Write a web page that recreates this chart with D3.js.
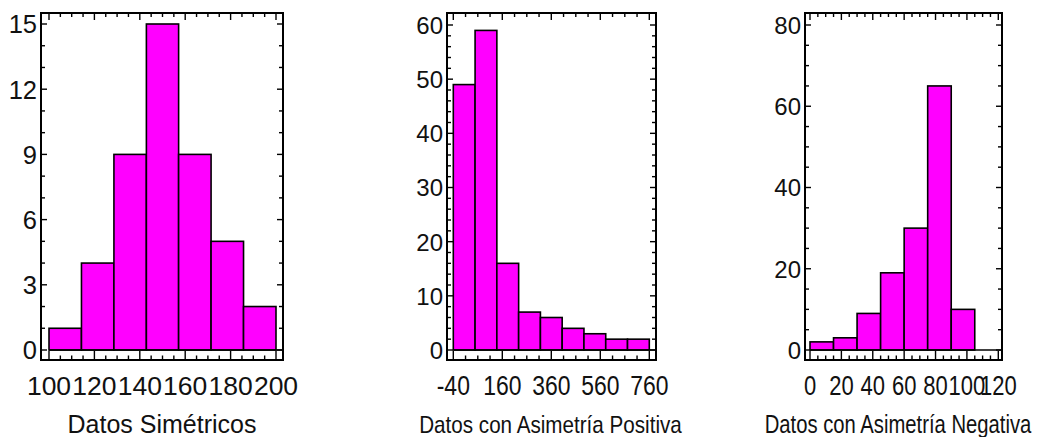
<!DOCTYPE html>
<html>
<head>
<meta charset="utf-8">
<script src="https://cdn.jsdelivr.net/npm/d3@7/dist/d3.min.js"></script>
<style>
  html, body { margin: 0; padding: 0; background: #ffffff; }
  svg { display: block; }
  text { font-family: Arial, "Liberation Sans", sans-serif; fill: #111; }
</style>
</head>
<body>
<svg id="chart" width="1037" height="437"></svg>
<script>
// ---- Histogram data (bin edges, frequencies, axis ticks) ----
const simEdges = [100, 114.3, 128.6, 142.9, 157.1, 171.4, 185.7, 200];
const simCounts = [1, 4, 9, 15, 9, 5, 2];
const simXTicks = [100, 120, 140, 160, 180, 200];
const simYTicks = [0, 3, 6, 9, 12, 15];

const posEdges = [-40, 48.9, 137.8, 226.7, 315.6, 404.4, 493.3, 582.2, 671.1, 760];
const posCounts = [49, 59, 16, 7, 6, 4, 3, 2, 2];
const posXTicks = [-40, 160, 360, 560, 760];
const posYTicks = [0, 10, 20, 30, 40, 50, 60];

const negEdges = [0, 15, 30, 45, 60, 75, 90, 105];
const negCounts = [2, 3, 9, 19, 30, 65, 10];
const negXTicks = [0, 20, 40, 60, 80, 100, 120];
const negYTicks = [0, 20, 40, 60, 80];

const titles = ["Datos Simétricos", "Datos con Asimetría Positiva", "Datos con Asimetría Negativa"];

// ---- Panel layout ----
const panels = [
  {
    edges: simEdges, counts: simCounts, xTicks: simXTicks, yTicks: simYTicks, title: titles[0],
    frame: { x0: 41, y0: 13, x1: 283, y1: 360 },
    xRange: [49, 276], yRange: [350, 24],
    xMinor: 5, yMinor: 1,
    xFont: 26.5, xSx: 1, yFont: 25.5, ySx: 1,
    titleFont: 25, titleSx: 1, titleX: 162
  },
  {
    edges: posEdges, counts: posCounts, xTicks: posXTicks, yTicks: posYTicks, title: titles[1],
    frame: { x0: 447, y0: 13, x1: 656, y1: 360 },
    xRange: [453.3, 649.3], yRange: [350, 25],
    xMinor: 50, yMinor: 2,
    xFont: 27, xSx: 0.85, yFont: 24, ySx: 1,
    titleFont: 24, titleSx: 0.86, titleX: 550.5
  },
  {
    edges: negEdges, counts: negCounts, xTicks: negXTicks, yTicks: negYTicks, title: titles[2],
    frame: { x0: 805, y0: 13, x1: 1002, y1: 360 },
    xRange: [810, 998.3], yRange: [350, 25],
    xMinor: 5, yMinor: 5,
    xFont: 27.5, xSx: 0.8, yFont: 24, ySx: 1,
    titleFont: 25, titleSx: 0.81, titleX: 898
  }
];

const svg = d3.select("#chart");

function label(g, x, y, txt, size, sx, anchor) {
  g.append("text")
    .attr("transform", `translate(${x},${y}) scale(${sx},1)`)
    .attr("text-anchor", anchor)
    .attr("font-size", size)
    .text(txt);
}

panels.forEach(p => {
  const g = svg.append("g");
  const f = p.frame;
  const xDomain = [p.xTicks[0], p.xTicks[p.xTicks.length - 1]];
  const yDomain = [p.yTicks[0], p.yTicks[p.yTicks.length - 1]];
  const x = d3.scaleLinear().domain(xDomain).range(p.xRange);
  const y = d3.scaleLinear().domain(yDomain).range(p.yRange);

  // bars
  const bins = p.counts.map((c, i) => ({ a: p.edges[i], b: p.edges[i + 1], c }));
  g.selectAll("rect.bar").data(bins).join("rect")
    .attr("class", "bar")
    .attr("x", d => x(d.a))
    .attr("y", d => y(d.c))
    .attr("width", d => x(d.b) - x(d.a))
    .attr("height", d => y(0) - y(d.c))
    .attr("fill", "#ff00ff")
    .attr("stroke", "#000")
    .attr("stroke-width", 1.6);

  // baseline to the right edge
  g.append("line")
    .attr("x1", x(p.edges[0])).attr("x2", f.x1)
    .attr("y1", y(0)).attr("y2", y(0))
    .attr("stroke", "#000").attr("stroke-width", 1.4);

  // minor / major ticks along the frame
  const xMinorVals = d3.range(xDomain[0], xDomain[1] + 1e-9, p.xMinor);
  const yMinorVals = d3.range(yDomain[0], yDomain[1] + 1e-9, p.yMinor);
  const isMajor = (v, arr) => arr.some(t => Math.abs(t - v) < 1e-6);
  const tk = g.append("g").attr("stroke", "#000").attr("stroke-width", 1.4);

  xMinorVals.forEach(v => {
    const mj = isMajor(v, p.xTicks);
    const xx = x(v);
    tk.append("line").attr("x1", xx).attr("x2", xx)
      .attr("y1", f.y1).attr("y2", f.y1 - (mj ? 9 : 4.5));
    tk.append("line").attr("x1", xx).attr("x2", xx)
      .attr("y1", f.y0).attr("y2", f.y0 + (mj ? 7 : 4));
  });
  yMinorVals.forEach(v => {
    const mj = isMajor(v, p.yTicks);
    const yy = y(v);
    tk.append("line").attr("y1", yy).attr("y2", yy)
      .attr("x1", f.x0).attr("x2", f.x0 + (mj ? 6 : 4));
    tk.append("line").attr("y1", yy).attr("y2", yy)
      .attr("x1", f.x1).attr("x2", f.x1 - (mj ? 6 : 4));
  });

  // frame
  g.append("rect")
    .attr("x", f.x0).attr("y", f.y0)
    .attr("width", f.x1 - f.x0).attr("height", f.y1 - f.y0)
    .attr("fill", "none").attr("stroke", "#000").attr("stroke-width", 2);

  // tick labels
  p.xTicks.forEach(v => label(g, x(v), 394.5, String(v), p.xFont, p.xSx, "middle"));
  p.yTicks.forEach(v => label(g, f.x0 - 4, y(v) + p.yFont * 0.37, String(v), p.yFont, p.ySx, "end"));

  // axis title
  label(g, p.titleX, 433, p.title, p.titleFont, p.titleSx, "middle");
});
</script>
</body>
</html>
